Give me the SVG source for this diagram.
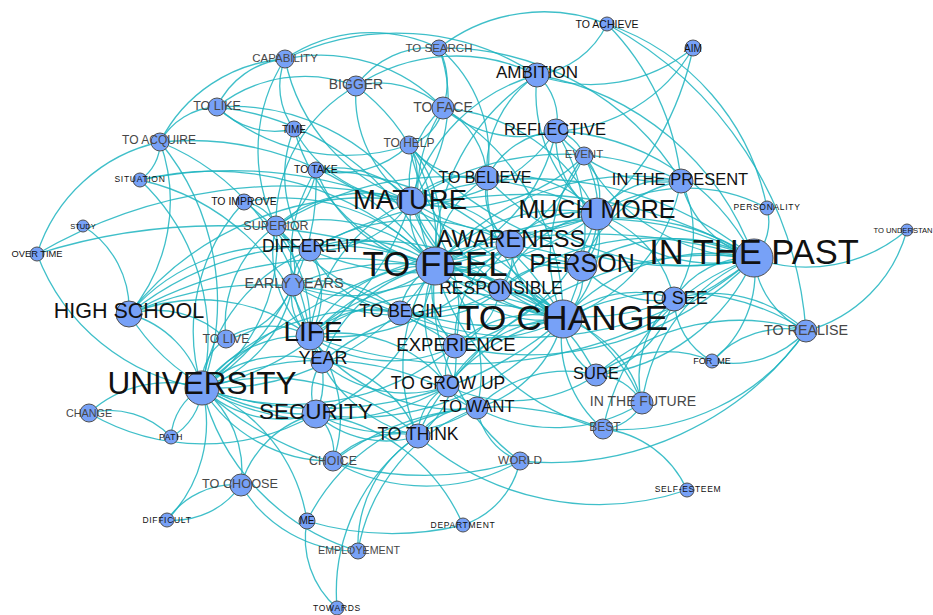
<svg xmlns="http://www.w3.org/2000/svg" width="933" height="615" viewBox="0 0 933 615">
<style>
.e path{fill:none;stroke:#1db4c0;stroke-width:1.3;stroke-opacity:0.85}
circle{fill:#77a1f7;stroke:#4f4f4f;stroke-width:1}
text{font-family:"Liberation Sans",Arial,sans-serif;text-anchor:middle;dominant-baseline:central;fill:#111}
.g{fill:#474747}
.s{letter-spacing:0.7px}
</style>
<rect width="933" height="615" fill="#fff"/>
<g class="e" id="edges">
<path d="M439,48A170,170 0 0 1 607,24"/>
<path d="M607,24A243,243 0 0 1 767,208"/>
<path d="M607,24A260,260 0 0 1 681,181"/>
<path d="M607,24A90,90 0 0 1 537,75"/>
<path d="M607,24A380,380 0 0 1 806,331"/>
<path d="M693,48A160,160 0 0 1 537,75"/>
<path d="M693,48A165,165 0 0 1 556,131"/>
<path d="M693,48A300,300 0 0 1 597,214"/>
<path d="M285,59A155,155 0 0 1 439,48"/>
<path d="M285,59A255,255 0 0 1 537,75"/>
<path d="M439,48A80,80 0 0 1 443,108"/>
<path d="M439,48A140,140 0 0 1 487,178"/>
<path d="M356,86A91,91 0 0 1 439,48"/>
<path d="M439,48A280,280 0 0 1 681,181"/>
<path d="M217,107A83,83 0 0 1 285,59"/>
<path d="M160,142A151,151 0 0 1 285,59"/>
<path d="M160,142A45,45 0 0 1 140,180"/>
<path d="M160,142A250,250 0 0 1 202,388"/>
<path d="M160,142A175,175 0 0 1 129,314"/>
<path d="M37,254A166,166 0 0 1 160,142"/>
<path d="M160,142A303,303 0 0 1 435,266"/>
<path d="M160,142A244,244 0 0 1 310,336"/>
<path d="M160,142A68,68 0 0 1 217,107"/>
<path d="M140,180A216,216 0 0 1 202,388"/>
<path d="M140,180A308,308 0 0 1 435,266"/>
<path d="M140,180A445,445 0 0 1 563,319"/>
<path d="M140,180A230,230 0 0 1 310,336"/>
<path d="M83,226A98,98 0 0 1 129,314"/>
<path d="M202,388A211,211 0 0 1 37,254"/>
<path d="M37,254A600,600 0 0 1 435,266"/>
<path d="M37,254A500,500 0 0 1 411,201"/>
<path d="M129,314A103,103 0 0 1 202,388"/>
<path d="M129,314A185,185 0 0 1 310,336"/>
<path d="M129,314A310,310 0 0 1 435,266"/>
<path d="M129,314A434,434 0 0 1 563,319"/>
<path d="M129,314A100,100 0 0 1 226,339"/>
<path d="M129,314A192,192 0 0 1 310,250"/>
<path d="M316,414A212,212 0 0 1 129,314"/>
<path d="M129,314A328,328 0 0 1 455,346"/>
<path d="M129,314A303,303 0 0 1 411,201"/>
<path d="M89,413A116,116 0 0 1 202,388"/>
<path d="M89,413A85,85 0 0 1 171,437"/>
<path d="M316,414A227,227 0 0 1 89,413"/>
<path d="M171,437A60,60 0 0 1 202,388"/>
<path d="M202,388A60,60 0 0 1 171,437"/>
<path d="M167,520A82,82 0 0 1 241,485"/>
<path d="M241,485A82,82 0 0 1 167,520"/>
<path d="M167,520A139,139 0 0 0 202,388"/>
<path d="M202,388A106,106 0 0 1 241,485"/>
<path d="M241,485A104,104 0 0 1 316,414"/>
<path d="M358,551A134,134 0 0 1 241,485"/>
<path d="M202,388A171,171 0 0 1 307,521"/>
<path d="M337,608A92,92 0 0 1 307,521"/>
<path d="M307,521A204,204 0 0 1 477,408"/>
<path d="M463,525A300,300 0 0 1 307,521"/>
<path d="M337,608A190,190 0 0 1 418,436"/>
<path d="M358,551A227,227 0 0 1 202,388"/>
<path d="M358,551A186,186 0 0 1 477,408"/>
<path d="M358,551A130,130 0 0 1 418,436"/>
<path d="M316,414A185,185 0 0 1 463,525"/>
<path d="M520,461A86,86 0 0 1 463,525"/>
<path d="M520,461A187,187 0 0 1 333,461"/>
<path d="M806,331A314,314 0 0 1 520,461"/>
<path d="M520,461A327,327 0 0 1 202,388"/>
<path d="M520,461A68,68 0 0 1 477,408"/>
<path d="M520,461A213,213 0 0 1 435,266"/>
<path d="M603,429A104,104 0 0 1 687,490"/>
<path d="M687,490A274,274 0 0 1 418,436"/>
<path d="M603,429A229,229 0 0 1 754,258"/>
<path d="M603,429A118,118 0 0 1 563,319"/>
<path d="M642,403A47,47 0 0 1 603,429"/>
<path d="M333,461A272,272 0 0 1 603,429"/>
<path d="M603,429A234,234 0 0 1 435,266"/>
<path d="M806,331A225,225 0 0 1 603,429"/>
<path d="M806,331A90,90 0 0 1 754,258"/>
<path d="M907,230A143,143 0 0 1 806,331"/>
<path d="M907,230A155,155 0 0 1 754,258"/>
<path d="M712,361A99,99 0 0 1 806,331"/>
<path d="M806,331A99,99 0 0 1 712,361"/>
<path d="M674,299A136,136 0 0 1 806,331"/>
<path d="M563,319A243,243 0 0 1 806,331"/>
<path d="M596,375A215,215 0 0 1 806,331"/>
<path d="M767,208A52,52 0 0 1 754,258"/>
<path d="M597,214A170,170 0 0 1 767,208"/>
<path d="M712,361A73,73 0 0 1 674,299"/>
<path d="M596,375A117,117 0 0 1 712,361"/>
<path d="M754,258A112,112 0 0 1 712,361"/>
<path d="M435,266A70,70 0 0 1 411,201"/>
<path d="M435,266A170,170 0 0 1 597,214"/>
<path d="M510,244A78,78 0 0 1 435,266"/>
<path d="M435,266A147,147 0 0 1 582,266"/>
<path d="M563,319A138,138 0 0 1 435,266"/>
<path d="M435,266A319,319 0 0 1 754,258"/>
<path d="M310,336A138,138 0 0 1 435,266"/>
<path d="M435,266A262,262 0 0 1 202,388"/>
<path d="M455,346A82,82 0 0 1 435,266"/>
<path d="M400,313A58,58 0 0 1 435,266"/>
<path d="M435,266A69,69 0 0 1 500,290"/>
<path d="M310,250A126,126 0 0 1 435,266"/>
<path d="M435,266A143,143 0 0 1 293,285"/>
<path d="M276,226A164,164 0 0 1 435,266"/>
<path d="M435,266A102,102 0 0 1 487,178"/>
<path d="M556,131A181,181 0 0 1 435,266"/>
<path d="M409,145A126,126 0 0 1 435,266"/>
<path d="M435,266A158,158 0 0 1 443,108"/>
<path d="M356,86A197,197 0 0 1 435,266"/>
<path d="M435,266A153,153 0 0 1 316,170"/>
<path d="M244,202A202,202 0 0 1 435,266"/>
<path d="M435,266A196,196 0 0 1 294,129"/>
<path d="M448,386A121,121 0 0 1 435,266"/>
<path d="M435,266A148,148 0 0 1 477,408"/>
<path d="M418,436A171,171 0 0 1 435,266"/>
<path d="M435,266A189,189 0 0 1 316,414"/>
<path d="M322,362A148,148 0 0 1 435,266"/>
<path d="M435,266A194,194 0 0 1 596,375"/>
<path d="M674,299A241,241 0 0 1 435,266"/>
<path d="M435,266A260,260 0 0 1 681,181"/>
<path d="M584,156A186,186 0 0 1 435,266"/>
<path d="M435,266A217,217 0 0 1 537,75"/>
<path d="M217,107A270,270 0 0 1 435,266"/>
<path d="M563,319A192,192 0 0 1 411,201"/>
<path d="M597,214A110,110 0 0 1 563,319"/>
<path d="M563,319A92,92 0 0 1 510,244"/>
<path d="M582,266A56,56 0 0 1 563,319"/>
<path d="M563,319A200,200 0 0 1 754,258"/>
<path d="M310,336A250,250 0 0 1 563,319"/>
<path d="M563,319A367,367 0 0 1 202,388"/>
<path d="M455,346A112,112 0 0 1 563,319"/>
<path d="M563,319A163,163 0 0 1 400,313"/>
<path d="M500,290A69,69 0 0 1 563,319"/>
<path d="M310,250A262,262 0 0 1 563,319"/>
<path d="M563,319A159,159 0 0 1 487,178"/>
<path d="M556,131A187,187 0 0 1 563,319"/>
<path d="M563,319A113,113 0 0 1 674,299"/>
<path d="M596,375A66,66 0 0 1 563,319"/>
<path d="M563,319A116,116 0 0 1 642,403"/>
<path d="M448,386A134,134 0 0 1 563,319"/>
<path d="M563,319A124,124 0 0 1 477,408"/>
<path d="M418,436A187,187 0 0 1 563,319"/>
<path d="M563,319A265,265 0 0 1 316,414"/>
<path d="M322,362A245,245 0 0 1 563,319"/>
<path d="M681,181A181,181 0 0 1 563,319"/>
<path d="M563,319A164,164 0 0 1 584,156"/>
<path d="M293,285A272,272 0 0 1 563,319"/>
<path d="M563,319A301,301 0 0 1 276,226"/>
<path d="M443,108A242,242 0 0 1 563,319"/>
<path d="M563,319A233,233 0 0 1 409,145"/>
<path d="M316,170A288,288 0 0 1 563,319"/>
<path d="M411,201A348,348 0 0 1 754,258"/>
<path d="M754,258A163,163 0 0 1 597,214"/>
<path d="M582,266A172,172 0 0 1 754,258"/>
<path d="M754,258A105,105 0 0 1 681,181"/>
<path d="M674,299A90,90 0 0 1 754,258"/>
<path d="M754,258A197,197 0 0 1 596,375"/>
<path d="M642,403A184,184 0 0 1 754,258"/>
<path d="M510,244A244,244 0 0 1 754,258"/>
<path d="M754,258A278,278 0 0 1 487,178"/>
<path d="M556,131A235,235 0 0 1 754,258"/>
<path d="M754,258A198,198 0 0 1 584,156"/>
<path d="M202,388A567,567 0 0 1 754,258"/>
<path d="M754,258A447,447 0 0 1 310,336"/>
<path d="M310,250A444,444 0 0 1 754,258"/>
<path d="M754,258A312,312 0 0 1 455,346"/>
<path d="M500,290A256,256 0 0 1 754,258"/>
<path d="M537,75A283,283 0 0 1 754,258"/>
<path d="M754,258A363,363 0 0 1 409,145"/>
<path d="M448,386A332,332 0 0 1 754,258"/>
<path d="M754,258A358,358 0 0 1 400,313"/>
<path d="M202,388A124,124 0 0 1 310,336"/>
<path d="M316,414A117,117 0 0 1 202,388"/>
<path d="M202,388A123,123 0 0 1 322,362"/>
<path d="M411,201A279,279 0 0 1 202,388"/>
<path d="M202,388A174,174 0 0 1 310,250"/>
<path d="M293,285A136,136 0 0 1 202,388"/>
<path d="M202,388A53,53 0 0 1 226,339"/>
<path d="M333,461A151,151 0 0 1 202,388"/>
<path d="M202,388A222,222 0 0 1 418,436"/>
<path d="M448,386A246,246 0 0 1 202,388"/>
<path d="M202,388A276,276 0 0 1 477,408"/>
<path d="M455,346A256,256 0 0 1 202,388"/>
<path d="M202,388A211,211 0 0 1 400,313"/>
<path d="M276,226A176,176 0 0 1 202,388"/>
<path d="M202,388A190,190 0 0 1 244,202"/>
<path d="M316,170A245,245 0 0 1 202,388"/>
<path d="M411,201A79,79 0 0 1 487,178"/>
<path d="M556,131A161,161 0 0 1 411,201"/>
<path d="M411,201A98,98 0 0 1 443,108"/>
<path d="M409,145A58,58 0 0 1 411,201"/>
<path d="M411,201A128,128 0 0 1 356,86"/>
<path d="M316,170A100,100 0 0 1 411,201"/>
<path d="M411,201A108,108 0 0 1 510,244"/>
<path d="M597,214A186,186 0 0 1 411,201"/>
<path d="M411,201A112,112 0 0 1 310,250"/>
<path d="M276,226A137,137 0 0 1 411,201"/>
<path d="M411,201A271,271 0 0 1 681,181"/>
<path d="M584,156A179,179 0 0 1 411,201"/>
<path d="M411,201A179,179 0 0 1 537,75"/>
<path d="M310,336A163,163 0 0 1 411,201"/>
<path d="M411,201A152,152 0 0 1 455,346"/>
<path d="M500,290A126,126 0 0 1 411,201"/>
<path d="M411,201A137,137 0 0 1 294,129"/>
<path d="M217,107A216,216 0 0 1 411,201"/>
<path d="M411,201A190,190 0 0 1 285,59"/>
<path d="M439,48A155,155 0 0 1 411,201"/>
<path d="M597,214A90,90 0 0 1 681,181"/>
<path d="M510,244A92,92 0 0 1 597,214"/>
<path d="M597,214A54,54 0 0 1 582,266"/>
<path d="M487,178A115,115 0 0 1 597,214"/>
<path d="M597,214A92,92 0 0 1 556,131"/>
<path d="M584,156A59,59 0 0 1 597,214"/>
<path d="M597,214A115,115 0 0 1 674,299"/>
<path d="M500,290A124,124 0 0 1 597,214"/>
<path d="M597,214A151,151 0 0 1 537,75"/>
<path d="M276,226A321,321 0 0 1 597,214"/>
<path d="M597,214A289,289 0 0 1 310,250"/>
<path d="M443,108A186,186 0 0 1 597,214"/>
<path d="M597,214A195,195 0 0 1 455,346"/>
<path d="M310,336A82,82 0 0 1 316,414"/>
<path d="M322,362A31,31 0 0 1 310,336"/>
<path d="M310,336A50,50 0 0 1 293,285"/>
<path d="M310,250A86,86 0 0 1 310,336"/>
<path d="M310,336A90,90 0 0 1 400,313"/>
<path d="M455,346A145,145 0 0 1 310,336"/>
<path d="M310,336A140,140 0 0 1 448,386"/>
<path d="M226,339A84,84 0 0 1 310,336"/>
<path d="M310,336A127,127 0 0 1 333,461"/>
<path d="M418,436A148,148 0 0 1 310,336"/>
<path d="M310,336A112,112 0 0 1 276,226"/>
<path d="M244,202A150,150 0 0 1 310,336"/>
<path d="M310,336A166,166 0 0 1 316,170"/>
<path d="M477,408A182,182 0 0 1 310,336"/>
<path d="M310,336A273,273 0 0 1 582,266"/>
<path d="M510,244A220,220 0 0 1 310,336"/>
<path d="M310,336A195,195 0 0 1 500,290"/>
<path d="M510,244A48,48 0 0 1 500,290"/>
<path d="M582,266A75,75 0 0 1 510,244"/>
<path d="M510,244A68,68 0 0 1 487,178"/>
<path d="M455,346A111,111 0 0 1 510,244"/>
<path d="M674,299A109,109 0 0 1 596,375"/>
<path d="M642,403A107,107 0 0 1 674,299"/>
<path d="M674,299A98,98 0 0 1 582,266"/>
<path d="M681,181A119,119 0 0 1 674,299"/>
<path d="M596,375A53,53 0 0 1 642,403"/>
<path d="M477,408A37,37 0 0 1 448,386"/>
<path d="M448,386A40,40 0 0 1 455,346"/>
<path d="M418,436A66,66 0 0 1 477,408"/>
<path d="M316,414A50,50 0 0 1 333,461"/>
<path d="M418,436A105,105 0 0 1 316,414"/>
<path d="M316,414A52,52 0 0 1 322,362"/>
<path d="M477,408A161,161 0 0 1 316,414"/>
<path d="M356,86A93,93 0 0 1 443,108"/>
<path d="M217,107A141,141 0 0 1 356,86"/>
<path d="M276,226A158,158 0 0 1 356,86"/>
<path d="M294,129A81,81 0 0 1 217,107"/>
<path d="M310,250A122,122 0 0 1 294,129"/>
<path d="M443,108A49,49 0 0 1 409,145"/>
<path d="M244,202A41,41 0 0 1 276,226"/>
<path d="M487,178A84,84 0 0 1 556,131"/>
<path d="M556,131A38,38 0 0 1 584,156"/>
<path d="M537,75A58,58 0 0 1 556,131"/>
<path d="M487,178A114,114 0 0 1 537,75"/>
<path d="M582,266A133,133 0 0 1 681,181"/>
<path d="M681,181A139,139 0 0 1 556,131"/>
<path d="M584,156A110,110 0 0 1 582,266"/>
<path d="M356,86A182,182 0 0 1 537,75"/>
<path d="M409,145A197,197 0 0 1 217,107"/>
<path d="M285,59A168,168 0 0 1 443,108"/>
<path d="M294,129A72,72 0 0 1 285,59"/>
<path d="M276,226A168,168 0 0 1 285,59"/>
<path d="M293,285A39,39 0 0 1 310,250"/>
<path d="M310,250A42,42 0 0 1 276,226"/>
<path d="M400,313A63,63 0 0 1 455,346"/>
<path d="M500,290A105,105 0 0 1 400,313"/>
<path d="M400,313A116,116 0 0 1 310,250"/>
<path d="M500,290A74,74 0 0 1 455,346"/>
<path d="M455,346A95,95 0 0 1 418,436"/>
<path d="M448,386A128,128 0 0 1 322,362"/>
<path d="M322,362A119,119 0 0 1 418,436"/>
<path d="M276,226A61,61 0 0 1 293,285"/>
<path d="M293,285A110,110 0 0 1 400,313"/>
<path d="M642,403A165,165 0 0 1 477,408"/>
<path d="M500,290A186,186 0 0 1 642,403"/>
<path d="M477,408A125,125 0 0 1 596,375"/>
<path d="M596,375A148,148 0 0 1 448,386"/>
<path d="M333,461A90,90 0 0 1 418,436"/>
<path d="M418,436A56,56 0 0 1 448,386"/>
<path d="M226,339A121,121 0 0 1 276,226"/>
<path d="M293,285A87,87 0 0 1 226,339"/>
<path d="M409,145A100,100 0 0 1 316,170"/>
<path d="M487,178A86,86 0 0 1 409,145"/>
<path d="M443,108A83,83 0 0 1 487,178"/>
<path d="M556,131A118,118 0 0 1 443,108"/>
<path d="M316,170A73,73 0 0 1 276,226"/>
<path d="M500,290A85,85 0 0 1 582,266"/>
<path d="M310,250A200,200 0 0 1 510,244"/>
<path d="M500,290A207,207 0 0 1 293,285"/>
</g>
<g id="n-to-achieve"><circle cx="607" cy="24" r="7"/><text x="607" y="24" font-size="10.5">TO ACHIEVE</text></g>
<g id="n-aim"><circle cx="693" cy="48" r="8"/><text x="693" y="48" font-size="10">AIM</text></g>
<g id="n-to-search"><circle cx="439" cy="48" r="8"/><text class="g" x="439" y="48" font-size="11.5">TO SEARCH</text></g>
<g id="n-capability"><circle cx="285" cy="59" r="9"/><text class="g" x="285" y="58" font-size="11.5">CAPABILITY</text></g>
<g id="n-to-like"><circle cx="217" cy="107" r="9"/><text class="g" x="217" y="106" font-size="12.5">TO LIKE</text></g>
<g id="n-time"><circle cx="294" cy="129" r="8"/><text x="294" y="129" font-size="10">TIME</text></g>
<g id="n-to-acquire"><circle cx="160" cy="142" r="9"/><text class="g" x="159" y="140" font-size="12">TO ACQUIRE</text></g>
<g id="n-to-help"><circle cx="409" cy="145" r="9"/><text class="g" x="409" y="143" font-size="12">TO HELP</text></g>
<g id="n-event"><circle cx="584" cy="156" r="9"/><text class="g" x="584" y="154" font-size="11.5">EVENT</text></g>
<g id="n-to-take"><circle cx="316" cy="170" r="8"/><text x="316" y="169" font-size="10.5">TO TAKE</text></g>
<g id="n-situation"><circle cx="140" cy="180" r="7"/><text class="s" x="140" y="179" font-size="8.5">SITUATION</text></g>
<g id="n-to-improve"><circle cx="244" cy="202" r="8"/><text x="244" y="201" font-size="10.5">TO IMPROVE</text></g>
<g id="n-personality"><circle cx="767" cy="208" r="7"/><text class="s" x="767" y="207" font-size="8.5">PERSONALITY</text></g>
<g id="n-study"><circle cx="83" cy="226" r="6"/><text x="83" y="226" font-size="7.5">STUDY</text></g>
<g id="n-to-understan"><circle cx="907" cy="230" r="6"/><text x="903" y="230" font-size="7.6">TO UNDERSTAN</text></g>
<g id="n-over-time"><circle cx="37" cy="254" r="7"/><text x="37" y="254" font-size="9.3">OVER TIME</text></g>
<g id="n-superior"><circle cx="276" cy="226" r="10"/><text class="g" x="276" y="226" font-size="12.5">SUPERIOR</text></g>
<g id="n-change"><circle cx="89" cy="413" r="9"/><text class="g" x="89" y="413" font-size="10.8">CHANGE</text></g>
<g id="n-path"><circle cx="171" cy="437" r="7"/><text class="s" x="171" y="437" font-size="8.5">PATH</text></g>
<g id="n-difficult"><circle cx="167" cy="520" r="7"/><text class="s" x="167" y="520" font-size="8.5">DIFFICULT</text></g>
<g id="n-me"><circle cx="307" cy="521" r="8"/><text x="307" y="520" font-size="10">ME</text></g>
<g id="n-department"><circle cx="463" cy="525" r="7"/><text class="s" x="463" y="525" font-size="8.5">DEPARTMENT</text></g>
<g id="n-employement"><circle cx="358" cy="551" r="8"/><text class="g" x="359" y="550" font-size="10.7">EMPLOYEMENT</text></g>
<g id="n-towards"><circle cx="337" cy="608" r="7"/><text class="s" x="337" y="608" font-size="8.5">TOWARDS</text></g>
<g id="n-self-esteem"><circle cx="687" cy="490" r="7"/><text class="s" x="688" y="489" font-size="8.5">SELF-ESTEEM</text></g>
<g id="n-for-me"><circle cx="712" cy="361" r="7"/><text x="712" y="361" font-size="9">FOR_ME</text></g>
<g id="n-to-live"><circle cx="226" cy="339" r="9"/><text class="g" x="226" y="339" font-size="12.3">TO LIVE</text></g>
<g id="n-best"><circle cx="603" cy="429" r="10"/><text class="g" x="605" y="427" font-size="12">BEST</text></g>
<g id="n-choice"><circle cx="333" cy="461" r="10"/><text class="g" x="333" y="461" font-size="12.3">CHOICE</text></g>
<g id="n-world"><circle cx="520" cy="461" r="9"/><text class="g" x="520" y="460" font-size="11.8">WORLD</text></g>
<g id="n-to-choose"><circle cx="241" cy="485" r="11"/><text class="g" x="240" y="484" font-size="12.7">TO CHOOSE</text></g>
<g id="n-bigger"><circle cx="356" cy="86" r="10"/><text class="g" x="356" y="84" font-size="14">BIGGER</text></g>
<g id="n-to-face"><circle cx="443" cy="108" r="11"/><text class="g" x="443" y="107" font-size="14">TO FACE</text></g>
<g id="n-early-years"><circle cx="293" cy="285" r="11"/><text class="g" x="294" y="283" font-size="14.5">EARLY YEARS</text></g>
<g id="n-to-realise"><circle cx="806" cy="331" r="11"/><text class="g" x="806" y="330" font-size="14.3">TO REALISE</text></g>
<g id="n-in-the-future"><circle cx="642" cy="403" r="11"/><text class="g" x="643" y="401" font-size="14">IN THE FUTURE</text></g>
<g id="n-ambition"><circle cx="537" cy="75" r="12"/><text x="537" y="72" font-size="17">AMBITION</text></g>
<g id="n-reflective"><circle cx="556" cy="131" r="12"/><text x="555" y="129" font-size="16.5">REFLECTIVE</text></g>
<g id="n-to-believe"><circle cx="487" cy="178" r="12"/><text x="485" y="177" font-size="16">TO BELIEVE</text></g>
<g id="n-in-the-present"><circle cx="681" cy="181" r="12"/><text x="680" y="179" font-size="16.5">IN THE PRESENT</text></g>
<g id="n-different"><circle cx="310" cy="250" r="11"/><text x="311" y="246" font-size="17.5">DIFFERENT</text></g>
<g id="n-responsible"><circle cx="500" cy="290" r="11"/><text x="501" y="288" font-size="17.5">RESPONSIBLE</text></g>
<g id="n-to-begin"><circle cx="400" cy="313" r="12"/><text x="401" y="311" font-size="17.5">TO BEGIN</text></g>
<g id="n-to-see"><circle cx="674" cy="299" r="12"/><text x="675" y="298" font-size="18">TO SEE</text></g>
<g id="n-experience"><circle cx="455" cy="346" r="12"/><text x="456" y="344" font-size="18.5">EXPERIENCE</text></g>
<g id="n-year"><circle cx="322" cy="362" r="11"/><text x="323" y="358" font-size="18">YEAR</text></g>
<g id="n-sure"><circle cx="596" cy="375" r="11"/><text x="596" y="373" font-size="16.5">SURE</text></g>
<g id="n-to-grow-up"><circle cx="448" cy="386" r="11"/><text x="448" y="383" font-size="17.5">TO GROW UP</text></g>
<g id="n-to-want"><circle cx="477" cy="408" r="11"/><text x="477" y="406" font-size="16.5">TO WANT</text></g>
<g id="n-to-think"><circle cx="418" cy="436" r="12"/><text x="418" y="434" font-size="17.5">TO THINK</text></g>
<g id="n-high-school"><circle cx="129" cy="314" r="13"/><text x="129" y="311" font-size="21.5">HIGH SCHOOL</text></g>
<g id="n-security"><circle cx="316" cy="414" r="14"/><text x="316" y="411" font-size="22.5">SECURITY</text></g>
<g id="n-awareness"><circle cx="510" cy="244" r="14"/><text x="511" y="239" font-size="23.5">AWARENESS</text></g>
<g id="n-person"><circle cx="582" cy="266" r="15"/><text x="582" y="263" font-size="25">PERSON</text></g>
<g id="n-much-more"><circle cx="597" cy="214" r="16"/><text x="597" y="209" font-size="25">MUCH MORE</text></g>
<g id="n-mature"><circle cx="411" cy="201" r="14"/><text x="410" y="199" font-size="27.5">MATURE</text></g>
<g id="n-life"><circle cx="310" cy="336" r="14"/><text x="313" y="331" font-size="28">LIFE</text></g>
<g id="n-university"><circle cx="202" cy="388" r="17"/><text x="202" y="383" font-size="31.5">UNIVERSITY</text></g>
<g id="n-to-feel"><circle cx="435" cy="266" r="19"/><text x="435" y="263" font-size="35">TO FEEL</text></g>
<g id="n-to-change"><circle cx="563" cy="319" r="19"/><text x="563" y="318" font-size="35.5">TO CHANGE</text></g>
<g id="n-in-the-past"><circle cx="754" cy="258" r="19"/><text x="754" y="252" font-size="34.5">IN THE PAST</text></g>
</svg>
